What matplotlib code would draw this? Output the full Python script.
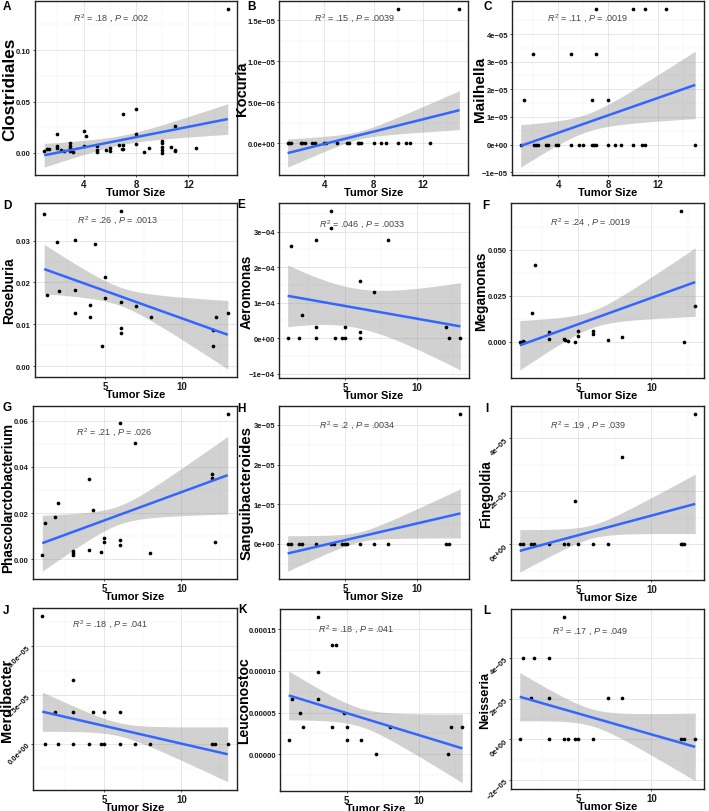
import numpy as np
import matplotlib
matplotlib.use('Agg')
import matplotlib.pyplot as plt
from matplotlib.ticker import FixedLocator

plt.rcParams['font.family'] = ['Liberation Sans', 'DejaVu Sans']
plt.rcParams['mathtext.fontset'] = 'custom'
plt.rcParams['mathtext.rm'] = 'Liberation Sans'
plt.rcParams['mathtext.it'] = 'Liberation Sans:italic'

# ---------------- data ----------------
taxa = ["Clostridiales", "Kocuria", "Mailhella", "Roseburia", "Aeromonas", "Megamonas",
        "Phascolarctobacterium", "Sanguibacteroides", "Finegoldia", "Merdibacter",
        "Leuconostoc", "Neisseria"]
letters = list("ABCDEFGHIJKL")
r2_values = [".18", ".15", ".11", ".26", ".046", ".24", ".21", ".2", ".19", ".18", ".18", ".17"]
p_values = [".002", ".0039", ".0019", ".0013", ".0033", ".0019", ".026", ".0034", ".039", ".041", ".041", ".049"]

x_A = [15, 1.0, 1.2, 1.4, 2.0, 2.0, 2.0, 2.3, 2.5, 3.0, 3.0, 3.0, 3.0, 3.2, 4.0, 4.2, 4.0, 5.0, 5.0, 5.0,
       5.7, 6.0, 6.0, 6.7, 6.9, 7.0, 7.0, 7.0, 8.0, 8.0, 8.0, 8.6, 9.0, 10.0, 10.0, 10.0, 10.0, 10.0,
       10.7, 11.0, 11.0, 11.0, 12.6]
y_A = [0.140, 0.002, 0.004, 0.004, 0.018, 0.007, 0.005, 0.003, 0.002, 0.0093, 0.007, 0.005, 0.002, 0.001,
       0.021, 0.0167, 0.0067, 0.0064, 0.003, 0.0006, 0.003, 0.0048, 0.0016, 0.008, 0.004, 0.038, 0.008,
       0.004, 0.0426, 0.0183, 0.0083, 0.001, 0.0045, 0.012, 0.0093, 0.0058, 0.003, 0.0003, 0.0058,
       0.0266, 0.003, 0.0016, 0.0045]

x_B = [10.0, 15.0, 1.0, 1.15, 1.3, 2.1, 2.2, 2.4, 3.0, 3.2, 4.0, 4.1, 5.05, 5.8, 6.0, 6.75, 6.85, 7.0,
       8.0, 8.6, 9.05, 10.0, 10.65, 10.95, 12.6]
y_B = [1.64e-5, 1.64e-5] + [0.0] * 23

x_C = [7.0, 10.0, 11.0, 12.65, 2.0, 5.0, 7.0, 1.3, 6.7, 8.0,
       1.0, 2.05, 2.25, 2.4, 3.0, 3.2, 3.8, 4.0, 5.0, 5.7, 6.0, 6.75, 6.9, 7.05, 8.0, 8.6, 9.05,
       10.0, 10.7, 11.0, 15.0]
y_C = [4.91e-5] * 4 + [3.28e-5] * 3 + [1.63e-5] * 3 + [0.0] * 21

x_D = [1.0, 1.2, 1.85, 2.0, 3.0, 3.0, 3.0, 4.3, 4.0, 4.0, 4.8, 5.0, 5.0, 6.0, 6.0, 6.0, 6.0, 7.0, 8.0,
       12.0, 12.0, 12.2, 13.0]
y_D = [0.0364, 0.0170, 0.0296, 0.0179, 0.0301, 0.0183, 0.0127, 0.0292, 0.0145, 0.0118, 0.0049, 0.0212,
       0.0164, 0.0371, 0.0154, 0.0091, 0.0080, 0.0143, 0.0117, 0.0087, 0.0048, 0.0117, 0.0127]

x_E = [1.0, 1.2, 1.8, 2.0, 3.0, 3.0, 3.0, 4.0, 4.0, 4.3, 4.8, 5.0, 5.0, 6.0, 6.0, 6.0, 7.0, 8.0,
       12.0, 12.2, 13.0]
y_E = [0, 2.6e-4, 0, 6.4e-5, 2.76e-4, 3.1e-5, 0, 3.58e-4, 3.09e-4, 0, 0, 0, 3.1e-5, 1.62e-4, 1.6e-5,
       0, 1.30e-4, 2.76e-4, 3.1e-5, 0, 0]

x_F = [1.0, 1.2, 1.3, 1.85, 2.05, 3.0, 3.0, 4.0, 4.1, 4.3, 4.8, 5.0, 5.0, 6.0, 6.0, 7.0, 8.0,
       12.0, 12.2, 13.0]
y_F = [0, 0.0005, 0, 0.0157, 0.0418, 0.0053, 0.0015, 0.0015, 0.0007, 0.0005, 0, 0.0057, 0.0029,
       0.0057, 0.0044, 0.0009, 0.0024, 0.0713, 0, 0.0192]

x_G = [1.0, 1.2, 1.8, 2.0, 3.0, 3.0, 3.0, 4.0, 4.0, 4.3, 4.8, 5.0, 5.0, 6.0, 6.0, 6.0, 7.0, 8.0,
       12.0, 12.0, 12.2, 13.0]
y_G = [0.0017, 0.0157, 0.0183, 0.0243, 0.0036, 0.0027, 0.0017, 0.0348, 0.0039, 0.0214, 0.0030, 0.0092,
       0.0073, 0.0590, 0.0083, 0.0063, 0.0502, 0.0026, 0.0371, 0.0351, 0.0073, 0.0629]

x_H = [13.0, 1.0, 1.2, 1.8, 2.0, 3.0, 4.0, 4.2, 4.8, 5.0, 5.1, 6.0, 7.0, 8.0, 12.0, 12.2]
y_H = [3.28e-5] + [0.0] * 15

x_I = [13.0, 8.0, 4.8, 1.0, 1.2, 1.8, 2.0, 3.0, 4.0, 4.3, 5.0, 6.0, 7.0, 12.0, 12.1, 12.2]
y_I = [4.92e-5, 3.30e-5, 1.65e-5] + [0.0] * 13

x_J = [1.0, 3.0, 1.8, 3.0, 4.3, 5.0, 6.0, 1.2, 2.0, 3.0, 4.0, 4.8, 5.0, 6.0, 7.0, 8.0, 12.0, 12.2, 13.0]
y_J = [6.55e-5, 3.27e-5] + [1.65e-5] * 5 + [0.0] * 12

x_K = [3.0, 3.0, 3.0, 4.0, 4.3, 1.2, 1.0, 1.8, 2.0, 4.0, 4.8, 5.0, 5.0, 6.0, 7.0, 8.0, 12.0, 12.2, 13.0]
y_K = [1.645e-4, 9.84e-5, 6.57e-5, 1.315e-4, 1.315e-4, 6.57e-5, 1.65e-5, 4.9e-5, 3.3e-5, 3.3e-5,
       4.9e-5, 3.3e-5, 1.65e-5, 1.65e-5, 0.0, 3.3e-5, 0.0, 3.3e-5, 3.3e-5]

x_L = [4.0, 1.2, 2.0, 3.0, 1.8, 3.0, 7.0, 8.0, 1.0, 3.0, 4.0, 4.3, 4.8, 5.0, 6.0, 12.0, 12.2, 13.0]
y_L = [6.02e-5] + [4.02e-5] * 3 + [2.02e-5] * 4 + [0.0] * 10

# fitted line (value at smallest and largest tumor size)
fit_line = [(-0.0022, 0.033), (-1.21e-6, 4.03e-6), (-4.8e-7, 2.16e-5), (0.0232, 0.0075),
            (1.19e-4, 3.3e-5), (-0.0020, 0.0325), (0.0070, 0.0364), (-2.4e-6, 7.7e-6),
            (-2.4e-6, 1.53e-5), (1.65e-5, -5.4e-6), (7.06e-5, 6.9e-6), (2.1e-5, -3.7e-6)]
# confidence band half-width (left end, narrowest, right end)
fit_band = [(0.0115, 0.0045, 0.0149), (1.71e-6, 0.48e-6, 2.38e-6), (7.68e-6, 3.2e-6, 1.22e-5),
            (0.0059, 0.0022, 0.0082), (8.7e-5, 5.5e-5, 1.23e-4), (0.0135, 0.0046, 0.0187),
            (0.0121, 0.004, 0.0168), (4.46e-6, 1.25e-6, 6.2e-6), (8.0e-6, 2.5e-6, 1.12e-5),
            (1.01e-5, 3.4e-6, 1.41e-5), (2.94e-5, 1.1e-5, 4.13e-5), (1.19e-5, 4.2e-6, 1.67e-5)]

x_ticks_top = [4, 8, 12]
x_ticks_rest = [5, 10]
y_ticks = [
    [0, 0.05, 0.10], [0, 5e-6, 1e-5, 1.5e-5], [-1e-5, 0, 1e-5, 2e-5, 3e-5, 4e-5], [0, 0.01, 0.02, 0.03],
    [-1e-4, 0, 1e-4, 2e-4, 3e-4], [0, 0.025, 0.05], [0, 0.02, 0.04, 0.06], [0, 1e-5, 2e-5, 3e-5],
    [0, 2e-5, 4e-5], [0, 2.5e-5, 5e-5], [0, 5e-5, 1e-4, 1.5e-4], [-2e-5, 0, 2e-5, 4e-5]]
y_ticklabels = [
    ["0.00", "0.05", "0.10"], ["0.0e+00", "5.0e\u221206", "1.0e\u221205", "1.5e\u221205"],
    ["\u22121e\u221205", "0e+00", "1e\u221205", "2e\u221205", "3e\u221205", "4e\u221205"],
    ["0.00", "0.01", "0.02", "0.03"],
    ["\u22121e\u221204", "0e+00", "1e\u221204", "2e\u221204", "3e\u221204"],
    ["0.000", "0.025", "0.050"], ["0.00", "0.02", "0.04", "0.06"],
    ["0e+00", "1e\u221205", "2e\u221205", "3e\u221205"], ["0e+00", "2e\u221205", "4e\u221205"],
    ["0.0e+00", "2.5e\u221205", "5.0e\u221205"], ["0.00000", "0.00005", "0.00010", "0.00015"],
    ["\u22122e\u221205", "0e+00", "2e\u221205", "4e\u221205"]]

xs = [x_A, x_B, x_C, x_D, x_E, x_F, x_G, x_H, x_I, x_J, x_K, x_L]
ys = [y_A, y_B, y_C, y_D, y_E, y_F, y_G, y_H, y_I, y_J, y_K, y_L]

# ---------------- layout (pixels) ----------------
W, H = 709, 812
boxes = [(35, 2, 237, 176), (279, 2, 468, 176), (512, 2, 704, 176),
         (35, 204, 237, 378), (279, 204, 469, 379), (511, 204, 704, 379),
         (33, 407, 237, 580), (279, 407, 469, 580), (511, 407, 704, 581),
         (33, 609, 237, 791), (280, 610, 471, 792), (511, 610, 704, 790)]
letter_pos = [(7, 7), (252, 7), (488, 7), (7, 206), (241, 205), (486, 206),
              (7, 408), (241, 409), (487, 409), (6, 611), (242, 610), (487, 611)]
ylab_x = [10, 242, 480, 9, 247, 481, 8, 247, 486, 7, 244, 485]
ylab_len = [102, 67, 64, 66, 74, 79, 150, 143, 67, 113, 87, 57]
ylab_cap = [12.5, 10.5, 11, 11.5, 11.5, 11, 10.3, 10.8, 11.5, 10.5, 11, 11.5]
ylab_dy = [0, 0, 0, 0, 0, 0, 4, 0, 0, 0, 0, 0]
rot_ticks = [False] * 8 + [True, True, False, True]
ann_pos = [(0.19, 0.90), (0.185, 0.90), (0.18, 0.90), (0.21, 0.90), (0.21, 0.88), (0.20, 0.89),
           (0.21, 0.85), (0.21, 0.89), (0.20, 0.89), (0.19, 0.91), (0.20, 0.89), (0.21, 0.88)]

fig = plt.figure(figsize=(W / 100, H / 100), dpi=100)

def band(xg, x0, x1, hl, hm, hr):
    a = hm ** 2
    dl = np.sqrt(max(hl ** 2 - a, 0))
    dr = np.sqrt(max(hr ** 2 - a, 0))
    sb = (dl + dr) / (x1 - x0)
    xc = x0 + dl / sb
    return np.sqrt(a + sb ** 2 * (xg - xc) ** 2)

ylabels = []
for i in range(12):
    l, t, r, b = boxes[i]
    ax = fig.add_axes([l / W, 1 - b / H, (r - l) / W, (b - t) / H])
    x = np.array(xs[i], float)
    y = np.array(ys[i], float)
    x0, x1 = x.min(), x.max()
    xg = np.linspace(x0, x1, 80)
    yl0, yl1 = fit_line[i]
    yline = yl0 + (yl1 - yl0) * (xg - x0) / (x1 - x0)
    hw = band(xg, x0, x1, *fit_band[i])
    lo, hi = yline - hw, yline + hw
    ax.fill_between(xg, lo, hi, color='#999999', alpha=0.45, linewidth=0, zorder=2)
    ax.scatter(x, y, s=7, color='black', linewidths=0, zorder=3)
    ax.plot(xg, yline, color='#3366FF', lw=1.8, zorder=4, solid_capstyle='butt')

    ymin = min(y.min(), lo.min()); ymax = max(y.max(), hi.max())
    dy = (ymax - ymin) * 0.05
    ax.set_ylim(ymin - dy, ymax + dy)
    dx = (x1 - x0) * 0.05
    ax.set_xlim(x0 - dx, x1 + dx)

    xt = x_ticks_top if i < 3 else x_ticks_rest
    ax.set_xticks(xt)
    ax.set_xticklabels([str(v) for v in xt], fontsize=7, fontweight='bold')
    st = xt[1] - xt[0]
    ax.xaxis.set_minor_locator(FixedLocator(np.arange(xt[0] - st / 2, xt[-1] + st, st)))
    yt = y_ticks[i]
    ax.set_yticks(yt)
    if rot_ticks[i]:
        ax.set_yticklabels(y_ticklabels[i], fontsize=5.5, fontweight='bold', rotation=45,
                           va='center', ha='right', rotation_mode='anchor')
    else:
        ax.set_yticklabels(y_ticklabels[i], fontsize=5.5, fontweight='bold')
    sy = yt[1] - yt[0]
    ax.yaxis.set_minor_locator(FixedLocator(np.arange(yt[0] - sy / 2, yt[-1] + sy, sy)))
    ax.grid(True, which='major', color='#E3E3E3', lw=0.6, zorder=0)
    ax.grid(True, which='minor', color='#F0F0F0', lw=0.35, zorder=0)
    ax.set_axisbelow(True)
    ax.tick_params(which='major', length=1.6, width=0.6, color='#333333', pad=1.2, labelcolor='#1a1a1a')
    ax.tick_params(which='minor', length=0)
    for s in ax.spines.values():
        s.set_color('#222222'); s.set_linewidth(1.0)

    ax.text(ann_pos[i][0], ann_pos[i][1], r"$R^2$ = " + r2_values[i] + r" , $P$ = " + p_values[i],
            transform=ax.transAxes, fontsize=6.5, color='#444444', ha='left', va='center')

    fig.text((l + r) / 2 / W, 1 - (b + 17.5) / H, "Tumor Size", fontsize=8, fontweight='bold',
             ha='center', va='center')
    yl = fig.text(ylab_x[i] / W, 1 - ((t + b) / 2 + ylab_dy[i]) / H, taxa[i], fontsize=12,
                  fontweight='bold', rotation=90, ha='center', va='center')
    ylabels.append(yl)
    lx, ly = letter_pos[i]
    fig.text(lx / W, 1 - ly / H, letters[i], fontsize=8.5, fontweight='bold', ha='center', va='center')

fig.canvas.draw()
rend = fig.canvas.get_renderer()
for yl, target, cap in zip(ylabels, ylab_len, ylab_cap):
    bb = yl.get_window_extent(rend)
    yl.set_fontsize(min(yl.get_fontsize() * target / bb.height, cap))

fig.savefig('out.png', dpi=100)
